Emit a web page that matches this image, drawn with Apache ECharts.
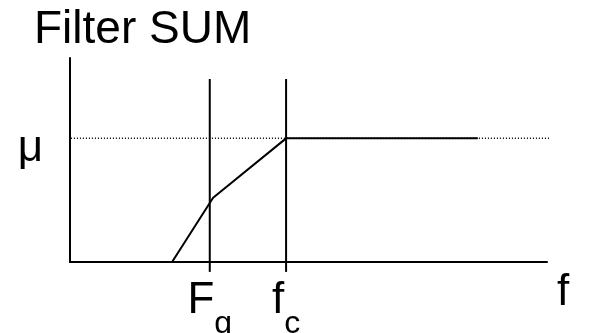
<html lang="en">
  <head>
    <meta charset="utf-8" />
    <title>Filter SUM</title>
    <script src="https://cdn.jsdelivr.net/npm/echarts@6/dist/echarts.min.js"></script>
    <style>
      html, body { margin: 0; padding: 0; background: #fff; }
    </style>
  </head>
  <body>
    <div id="main" style="width: 589px;height:333px;"></div>
    <script type="text/javascript">
      // axis ranges (frequency in arbitrary units, response normalised to mu = 1)
      var xRange = [0, 10];
      var yRange = [0, 1.65];

      // filter response curve
      var responseX = [2.14, 3.0, 4.53, 8.55];
      var responseY = [0, 0.52, 1, 1];

      // cut-off markers: Fg and fc
      var cutoffX = [2.93, 4.53];
      var cutoffMain = ['F', 'f'];
      var cutoffSub = ['g', 'c'];
      var markerSpan = [-0.08, 1.48];

      // mu reference level
      var muLevel = 1;
      var muSpan = [-0.17, 10.13];

      var font = "'Liberation Sans', Arial, sans-serif";
      var chartDom = document.getElementById('main');
      var myChart = echarts.init(chartDom, null, { renderer: 'canvas' });

      var series = [];
      series.push({
        type: 'line',
        data: [[muSpan[0], muLevel], [muSpan[1], muLevel]],
        symbol: 'none',
        clip: false,
        silent: true,
        lineStyle: { color: '#000', width: 1.5, type: [1, 2] }
      });
      cutoffX.forEach(function (x) {
        series.push({
          type: 'line',
          data: [[x, markerSpan[0]], [x, markerSpan[1]]],
          symbol: 'none',
          clip: false,
          silent: true,
          lineStyle: { color: '#000', width: 2 }
        });
      });
      series.push({
        type: 'line',
        data: responseX.map(function (x, i) { return [x, responseY[i]]; }),
        symbol: 'none',
        clip: false,
        silent: true,
        lineStyle: { color: '#000', width: 2 }
      });

      var option = {
        animation: false,
        title: {
          text: 'Filter SUM',
          left: 34,
          top: 7,
          padding: 0,
          textStyle: { fontFamily: font, fontSize: 46, fontWeight: 'normal', color: '#000', lineHeight: 46 }
        },
        grid: { left: 70, right: 42, top: 58, bottom: 71, containLabel: false, outerBoundsMode: 'none' },
        xAxis: {
          type: 'value',
          min: xRange[0],
          max: xRange[1],
          name: 'f',
          nameLocation: 'end',
          nameGap: 10,
          nameTextStyle: {
            fontFamily: font, fontSize: 44, color: '#000',
            verticalAlign: 'top', lineHeight: 44, padding: [9, 0, 0, 0]
          },
          axisLine: { lineStyle: { color: '#000', width: 2 } },
          axisTick: { show: false },
          splitLine: { show: false },
          axisLabel: {
            customValues: cutoffX,
            margin: 17,
            fontFamily: font,
            color: '#000',
            formatter: function (v) {
              var i = cutoffX.indexOf(v);
              if (i < 0) return '';
              return '{m|' + cutoffMain[i] + '}{s|' + cutoffSub[i] + '}';
            },
            rich: {
              m: { fontFamily: font, fontSize: 44, lineHeight: 44, verticalAlign: 'top', color: '#000' },
              s: { fontFamily: font, fontSize: 32, lineHeight: 61, verticalAlign: 'bottom', color: '#000' }
            }
          }
        },
        yAxis: {
          type: 'value',
          min: yRange[0],
          max: yRange[1],
          axisLine: { show: true, lineStyle: { color: '#000', width: 2 } },
          axisTick: { show: false },
          splitLine: { show: false },
          axisLabel: {
            customValues: [muLevel],
            margin: 27,
            color: '#000',
            formatter: function () { return '{u|μ}'; },
            rich: {
              u: { fontFamily: font, fontSize: 44, lineHeight: 64, verticalAlign: 'bottom', color: '#000' }
            }
          }
        },
        series: series
      };

      option && myChart.setOption(option);
    </script>
  </body>
</html>
